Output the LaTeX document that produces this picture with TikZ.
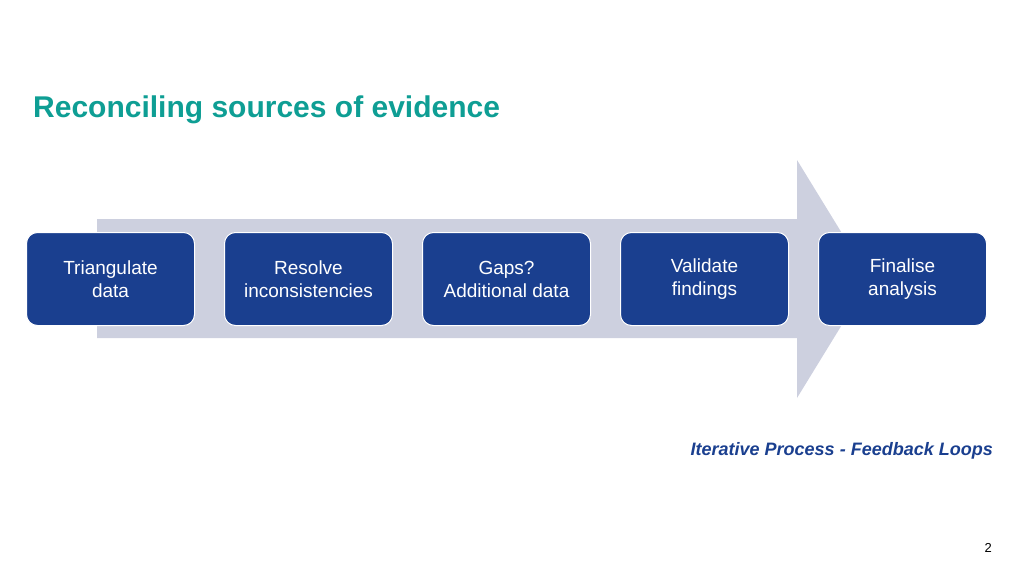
\documentclass[tikz,border=0pt]{standalone}
\usepackage{fontspec}
\setmainfont{Liberation Sans}
\definecolor{boxblue}{HTML}{1A3F8F}
\definecolor{titleteal}{HTML}{0E9E94}
\definecolor{arrowgray}{HTML}{CDD0DF}
\begin{document}
\begin{tikzpicture}[x=1pt,y=-1pt,
  procstep/.style={draw=white,line width=1pt,fill=boxblue,rounded corners=11pt,minimum width=168pt,minimum height=93pt,text=white,align=center,font=\fontsize{19}{23}\selectfont,anchor=north west,inner sep=0pt}]
\useasboundingbox (0,0) rectangle (1024,575);
\fill[arrowgray] (97,219) -- (797,219) -- (797,160) -- (870,279) -- (797,398) -- (797,338) -- (97,338) -- cycle;
\node[procstep] (a) at (26,232) {Triangulate\\data};
\node[procstep] (b) at (224,232) {Resolve\\inconsistencies};
\node[procstep] (c) at (422,232) {Gaps?\\Additional data};
\node[procstep] (d) at (620,232) {Validate\\findings};
\node[procstep] (e) at (818,232) {Finalise\\analysis};
\node[anchor=west,text=titleteal,font=\fontsize{30}{34}\selectfont\bfseries,inner sep=0pt] (t) at (33,110) {Reconciling sources of evidence};
\node[anchor=east,text=boxblue,font=\fontsize{18}{22}\selectfont\bfseries\itshape,inner sep=0pt] (f) at (993,451) {Iterative Process - Feedback Loops};
\node[anchor=east,font=\fontsize{13}{15}\selectfont,inner sep=0pt] (n) at (992,548) {2};
\end{tikzpicture}
\end{document}
